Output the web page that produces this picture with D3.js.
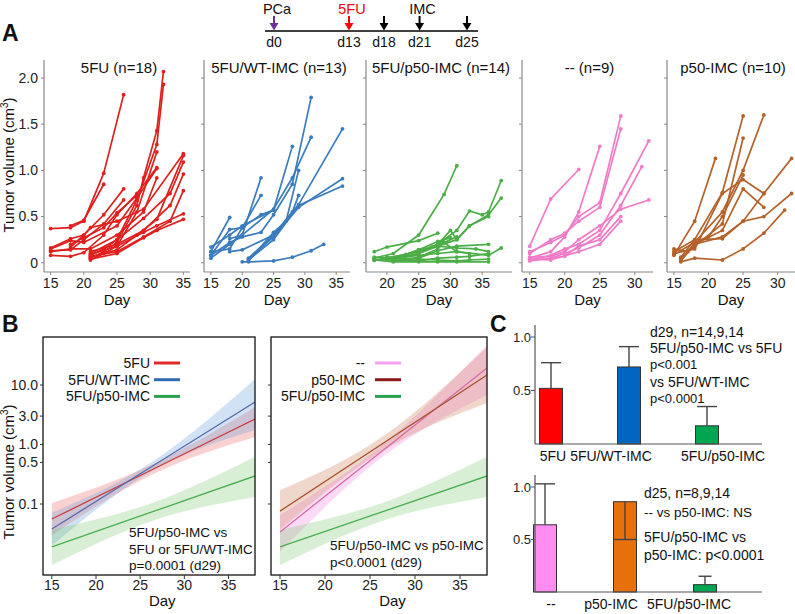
<!DOCTYPE html>
<html><head><meta charset="utf-8">
<script src="https://cdn.jsdelivr.net/npm/d3@7"></script>
<style>body{margin:0;background:#fff} text{font-family:"Liberation Sans",Arial,sans-serif;fill:#111}</style>
</head><body>
<svg id="c" width="795" height="614"></svg>
<script>
// ---------- DATA ----------
// timeline
const timelineDays = [0, 13, 18, 21, 25];
const timelineLabels = ["d0", "d13", "d18", "d21", "d25"];
const timelineArrowColors = ["#7030a0", "#ff0000", "#000", "#000", "#000"];
const timelineEvents = [["PCa", 0, "#111"], ["5FU", 13, "#ff0000"], ["IMC", 21, "#111"]];

// Panel A: individual tumour growth curves [day, volume cm3]
const a5FU = [
  [[15,0.37],[18,0.38],[20,0.45],[23,0.97],[26,1.82]],
  [[18,0.40],[20,0.46],[23,0.85]],
  [[15,0.16],[18,0.26],[20,0.30],[23,0.52],[26,0.80]],
  [[15,0.13],[18,0.14],[20,0.25],[23,0.42],[26,0.68]],
  [[15,0.08],[18,0.07],[20,0.11],[23,0.30],[25,0.52],[28,0.75],[31,1.03]],
  [[21,0.05],[23,0.12],[25,0.22],[28,0.62],[29,0.92],[31,1.43],[32,2.07]],
  [[21,0.08],[23,0.15],[25,0.25],[28,0.68],[31,1.28],[32,1.93]],
  [[21,0.03],[23,0.10],[25,0.18],[28,0.55],[31,1.20]],
  [[18,0.17],[20,0.30],[21,0.38],[25,0.45],[29,0.58],[35,1.18]],
  [[21,0.06],[25,0.14],[28,0.30],[31,0.47],[35,1.16]],
  [[21,0.10],[25,0.25],[29,0.48],[33,0.75],[35,1.09]],
  [[21,0.12],[25,0.20],[29,0.35],[33,0.62],[35,0.96]],
  [[21,0.07],[25,0.12],[29,0.28],[33,0.45],[35,0.78]],
  [[21,0.09],[25,0.18],[29,0.33],[31,0.40],[35,0.53]],
  [[21,0.04],[25,0.10],[29,0.27],[31,0.35],[35,0.47]],
  [[15,0.15],[18,0.24],[20,0.22],[25,0.40],[28,0.70],[31,1.02]],
  [[18,0.20],[20,0.27],[23,0.38],[25,0.54],[28,0.73]],
  [[15,0.12],[18,0.15],[21,0.15],[25,0.30],[29,0.55],[31,0.92]]
];
const aWT = [
  [[15,0.17],[18,0.30],[20,0.40],[25,0.57],[28,1.26]],
  [[15,0.08],[18,0.36],[20,0.38],[23,0.73]],
  [[15,0.05],[18,0.20],[20,0.30],[23,0.92]],
  [[15,0.12],[18,0.49]],
  [[15,0.08],[18,0.22],[20,0.28],[23,0.33],[25,0.52],[28,0.85],[31,1.79]],
  [[18,0.12],[20,0.14],[25,0.30],[29,0.63],[36,1.45]],
  [[18,0.26],[20,0.30],[25,0.58],[28,0.92],[31,1.36]],
  [[21,0.04],[25,0.28],[29,0.60],[36,0.91]],
  [[21,0.03],[25,0.25],[29,0.62],[36,0.83]],
  [[21,0.02],[25,0.33],[27,0.45],[29,1.00]],
  [[21,0.05],[25,0.30],[28,0.55],[29,0.73]],
  [[20,0.01],[21,0.01],[25,0.02],[28,0.06],[31,0.13],[33,0.20]],
  [[15,0.12],[18,0.15],[20,0.38],[23,0.52],[25,0.57]]
];
const aP50 = [
  [[18,0.05],[21,0.10],[25,0.30],[29,0.74],[31,1.05]],
  [[18,0.12],[20,0.17],[25,0.24],[28,0.32]],
  [[18,0.06],[20,0.05],[25,0.12],[28,0.20],[31,0.35],[33,0.56],[35,0.52],[36,0.55],[38,0.89]],
  [[18,0.03],[21,0.04],[25,0.10],[28,0.18],[31,0.25],[33,0.40],[36,0.52],[38,0.70]],
  [[21,0.02],[25,0.05],[28,0.13],[31,0.18],[36,0.20]],
  [[21,0.05],[25,0.08],[28,0.10],[31,0.12],[36,0.08],[38,0.16]],
  [[18,0.03],[21,0.01],[25,0.01],[28,0.01],[31,0.01],[36,0.01]],
  [[20,0.06],[25,0.04],[28,0.03],[31,0.02],[33,0.03],[36,0.04]],
  [[21,0.03],[25,0.10],[28,0.20],[30,0.35],[31,0.25],[33,0.40],[36,0.50]],
  [[20,0.04],[25,0.12],[28,0.18],[31,0.16],[34,0.15],[36,0.12]],
  [[21,0.02],[25,0.06],[28,0.15],[29,0.22],[31,0.28]],
  [[18,0.03],[20,0.05],[23,0.09],[25,0.14],[28,0.23],[30,0.27]],
  [[20,0.03],[25,0.02],[28,0.05],[31,0.06],[33,0.07],[36,0.10]],
  [[21,0.04],[25,0.14],[27,0.17],[29,0.22],[31,0.12],[33,0.10]]
];
const aCtrl = [
  [[15,0.18],[18,0.69],[22,1.01]],
  [[15,0.12],[18,0.22],[20,0.30],[22,0.50],[25,0.65],[28,1.59]],
  [[15,0.10],[18,0.25],[20,0.32],[22,0.45],[25,0.60],[28,1.45]],
  [[15,0.05],[18,0.12],[20,0.28],[22,0.55],[25,1.26]],
  [[15,0.03],[18,0.08],[20,0.15],[22,0.20],[25,0.35],[28,0.75],[32,1.32]],
  [[15,0.02],[18,0.05],[20,0.10],[22,0.16],[25,0.30],[28,0.62],[31,1.04]],
  [[15,0.06],[18,0.07],[20,0.12],[22,0.25],[25,0.40],[28,0.58],[32,0.68]],
  [[15,0.04],[18,0.03],[22,0.12],[25,0.20],[28,0.45]],
  [[15,0.03],[18,0.05],[20,0.07],[22,0.18],[25,0.25],[28,0.50]]
];
const aP50only = [
  [[15,0.08],[18,0.45],[21,1.13]],
  [[15,0.12],[18,0.25],[22,0.76],[25,1.59]],
  [[15,0.09],[18,0.22],[22,0.55],[25,1.00],[28,1.60]],
  [[16,0.05],[18,0.18],[22,0.42],[25,1.35]],
  [[15,0.10],[18,0.15],[22,0.75],[25,0.90],[28,0.75]],
  [[16,0.02],[18,0.20],[22,0.35],[25,0.80],[28,0.60]],
  [[16,0.06],[18,0.25],[22,0.26],[25,0.45],[28,0.50],[32,0.75]],
  [[16,0.03],[18,0.20],[22,0.28],[25,0.45],[28,0.75],[32,1.13]],
  [[16,0.01],[18,0.05],[22,0.03],[25,0.15],[28,0.32],[31,0.57]],
  [[15,0.15],[17,0.12],[18,0.22],[20,0.28],[22,0.50],[25,0.95]]
];
const aTitles = ["5FU (n=18)", "5FU/WT-IMC (n=13)", "5FU/p50-IMC (n=14)", "-- (n=9)", "p50-IMC (n=10)"];
const aYTicks = [0, 0.5, 1.0, 1.5, 2.0];
const aYTickLabels = ["0", "0.5", "1.0", "1.5", "2.0"];

// Panel B: fitted log-linear growth with confidence band at days
const bDays = [15, 26.5, 38];
const bFit5FU = [0.056, 0.387, 2.68],  bLo5FU = [0.030, 0.32, 1.34],  bHi5FU = [0.104, 0.47, 4.26];
const bFitWT  = [0.038, 0.443, 5.18],  bLoWT  = [0.020, 0.37, 1.75],  bHiWT  = [0.071, 0.53, 12.6];
const bFitP50 = [0.019, 0.075, 0.296], bLoP50 = [0.0094, 0.053, 0.131], bHiP50 = [0.037, 0.106, 0.62];
const bFitCtrl = [0.034, 0.81, 19.3],  bLoCtrl = [0.0156, 0.64, 6.8], bHiCtrl = [0.065, 1.02, 47];
const bFitP50only = [0.076, 1.057, 14.7], bLoP50only = [0.037, 0.80, 4.98], bHiP50only = [0.17, 1.39, 43.5];
const bYTicks = [10, 3, 1, 0.5, 0.1];
const bYTickLabels = ["10.0", "3.0", "1.0", "0.5", "0.1"];
const bXTicks = [15, 20, 25, 30, 35];

// Panel C: bar charts
const cTopCats = ["5FU", "5FU/WT-IMC", "5FU/p50-IMC"];
const cTopMeans = [0.52, 0.72, 0.17];
const cTopErrEnd = [0.76, 0.91, 0.35];
const cBotCats = ["--", "p50-IMC", "5FU/p50-IMC"];
const cBotMeans = [0.64, 0.86, 0.07];
const cBotErrEnd = [1.03, 0.50, 0.15];
const cYTicks = [0.5, 1.0];

// ---------- DRAWING ----------
const svg = d3.select("#c");

function panelLabel(t, x, y) {
  svg.append("text").attr("x", x).attr("y", y).attr("font-size", 23).attr("font-weight", "bold").text(t);
}
function yLabel(x, y) {
  const t = svg.append("text").attr("transform", `translate(${x},${y}) rotate(-90)`)
    .attr("text-anchor", "middle").attr("font-size", 15);
  t.append("tspan").text("Tumor volume (cm");
  t.append("tspan").attr("font-size", 10).attr("dy", -6).text("3");
  t.append("tspan").attr("dy", 6).text(")");
}

// ---- timeline ----
const tx = d3.scaleLinear().domain([0, 13, 18, 25]).range([274, 349, 384, 467]);
svg.append("line").attr("x1", tx(0) - 9).attr("x2", tx(25) + 11).attr("y1", 31).attr("y2", 31)
  .attr("stroke", "#000").attr("stroke-width", 1.6);
timelineDays.forEach((d, i) => {
  const x = tx(d), c = timelineArrowColors[i];
  svg.append("line").attr("x1", x).attr("x2", x).attr("y1", 16).attr("y2", 24).attr("stroke", c).attr("stroke-width", 2);
  svg.append("path").attr("d", `M${x - 4.5},23 L${x + 4.5},23 L${x},30.5 Z`).attr("fill", c);
  svg.append("text").attr("x", x).attr("y", 47).attr("text-anchor", "middle").attr("font-size", 14).text(timelineLabels[i]);
});
timelineEvents.forEach(([lab, d, c]) => {
  svg.append("text").attr("x", tx(d) + 3).attr("y", 14).attr("text-anchor", "middle")
    .attr("font-size", 14.5).style("fill", c).text(lab);
});

// ---- Panel A ----
panelLabel("A", 2, 41);
yLabel(14, 165);
const ayScale = d3.scaleLinear().domain([-0.1, 2.195]).range([272, 60]);
const aCfg = [
  { x0: 44,  x1: 190, dom: [14, 36],     lines: a5FU,     color: "#e0201e", ticks: [15,20,25,30,35], showY: true },
  { x0: 204, x1: 350, dom: [13.9, 37.2], lines: aWT,      color: "#3a7cbd", ticks: [15,20,25,30,35] },
  { x0: 366, x1: 512, dom: [16.7, 39.7], lines: aP50,     color: "#4cae46", ticks: [20,25,30,35] },
  { x0: 522, x1: 653, dom: [13.9, 32.6], lines: aCtrl,    color: "#f07cc8", ticks: [15,20,25,30] },
  { x0: 667, x1: 795, dom: [14, 32.5],   lines: aP50only, color: "#b4622a", ticks: [15,20,25,30] }
];
aCfg.forEach((c, k) => {
  const x = d3.scaleLinear().domain(c.dom).range([c.x0, c.x1]);
  const y = ayScale;
  const g = svg.append("g");
  g.append("line").attr("x1", c.x0).attr("x2", c.x0).attr("y1", 60).attr("y2", 272).attr("stroke", "#888").attr("stroke-width", 1.2);
  g.append("line").attr("x1", c.x0).attr("x2", c.x1).attr("y1", 272).attr("y2", 272).attr("stroke", "#888").attr("stroke-width", 1.2);
  aYTicks.forEach((v, i) => {
    g.append("line").attr("x1", c.x0 - 3).attr("x2", c.x0).attr("y1", y(v)).attr("y2", y(v)).attr("stroke", "#888");
    if (c.showY) g.append("text").attr("x", c.x0 - 6).attr("y", y(v)).attr("dy", "0.35em")
      .attr("text-anchor", "end").attr("font-size", 14).style("fill", "#222").text(aYTickLabels[i]);
  });
  c.ticks.forEach(v => {
    g.append("line").attr("x1", x(v)).attr("x2", x(v)).attr("y1", 272).attr("y2", 275).attr("stroke", "#888");
    g.append("text").attr("x", x(v)).attr("y", 288).attr("text-anchor", "middle").attr("font-size", 14).style("fill", "#222").text(v);
  });
  g.append("text").attr("x", (c.x0 + c.x1) / 2).attr("y", 305).attr("text-anchor", "middle").attr("font-size", 15).text("Day");
  g.append("text").attr("x", (c.x0 + c.x1) / 2 + 2).attr("y", 73).attr("text-anchor", "middle").attr("font-size", 15).text(aTitles[k]);
  const line = d3.line().x(d => x(d[0])).y(d => y(d[1]));
  c.lines.forEach(L => {
    g.append("path").attr("d", line(L)).attr("fill", "none").attr("stroke", c.color).attr("stroke-width", 1.7);
    g.selectAll(null).data(L).enter().append("circle").attr("cx", d => x(d[0])).attr("cy", d => y(d[1]))
      .attr("r", 1.9).attr("fill", c.color);
  });
});

// ---- Panel B ----
panelLabel("B", 2, 332);
yLabel(14, 472);
const byScale = d3.scaleLog().domain([0.00641, 64.1]).range([575, 337]);
function panelB(cfg, id) {
  const x = d3.scaleLinear().domain([14, 38]).range([cfg.x0, cfg.x1]);
  const y = byScale;
  svg.append("clipPath").attr("id", id).append("rect").attr("x", cfg.x0).attr("y", 337).attr("width", cfg.x1 - cfg.x0).attr("height", 238);
  const g = svg.append("g").attr("clip-path", `url(#${id})`);
  const area = d3.area().x(d => x(d[0])).y0(d => y(d[1])).y1(d => y(d[2])).curve(d3.curveNatural);
  const line = d3.line().x(d => x(d[0])).y(d => y(d[1]));
  cfg.series.forEach(s => {
    g.append("path").attr("d", area(bDays.map((d, i) => [d, s.lo[i], s.hi[i]]))).attr("fill", s.band);
  });
  cfg.series.forEach(s => {
    g.append("path").attr("d", line(bDays.map((d, i) => [d, s.fit[i]]))).attr("fill", "none").attr("stroke", s.line).attr("stroke-width", 1.3);
  });
  svg.append("rect").attr("x", cfg.x0).attr("y", 337).attr("width", cfg.x1 - cfg.x0).attr("height", 238)
    .attr("fill", "none").attr("stroke", "#111").attr("stroke-width", 1.3);
  bYTicks.forEach((v, i) => {
    svg.append("line").attr("x1", cfg.x0 - 3).attr("x2", cfg.x0).attr("y1", y(v)).attr("y2", y(v)).attr("stroke", "#333");
    if (cfg.showY) svg.append("text").attr("x", cfg.x0 - 5).attr("y", y(v)).attr("dy", "0.35em").attr("text-anchor", "end")
      .attr("font-size", 14).style("fill", "#222").text(bYTickLabels[i]);
  });
  bXTicks.forEach(v => {
    svg.append("line").attr("x1", x(v)).attr("x2", x(v)).attr("y1", 575).attr("y2", 579).attr("stroke", "#333");
    svg.append("text").attr("x", x(v)).attr("y", 590).attr("text-anchor", "middle").attr("font-size", 14).style("fill", "#222").text(v);
  });
  svg.append("text").attr("x", x(27.5)).attr("y", 606).attr("text-anchor", "middle").attr("font-size", 15).text("Day");
  cfg.series.forEach((s, i) => {
    const yy = 363 + i * 16.7;
    svg.append("text").attr("x", cfg.x0 + cfg.legX).attr("y", yy).attr("dy", "0.35em").attr("text-anchor", "end").attr("font-size", 14).text(s.name);
    svg.append("line").attr("x1", cfg.x0 + cfg.legX + cfg.legGap).attr("x2", cfg.x0 + cfg.legX + cfg.legGap + 26)
      .attr("y1", yy).attr("y2", yy).attr("stroke", s.legend).attr("stroke-width", 3);
  });
  cfg.notes.forEach((t, i) => {
    svg.append("text").attr("x", cfg.noteX).attr("y", cfg.noteY + i * 16.5).attr("font-size", 13.5).text(t);
  });
}
panelB({
  x0: 43, x1: 255, showY: true, legX: 107, legGap: 4, noteX: 129, noteY: 537,
  notes: ["5FU/p50-IMC vs", "5FU or 5FU/WT-IMC", "p=0.0001 (d29)"],
  series: [
    { name: "5FU", fit: bFit5FU, lo: bLo5FU, hi: bHi5FU, band: "rgba(236,90,90,0.28)", line: "#cc3c3c", legend: "#e02828" },
    { name: "5FU/WT-IMC", fit: bFitWT, lo: bLoWT, hi: bHiWT, band: "rgba(100,160,215,0.30)", line: "#5a6aae", legend: "#2e6db5" },
    { name: "5FU/p50-IMC", fit: bFitP50, lo: bLoP50, hi: bHiP50, band: "rgba(110,195,100,0.27)", line: "#4aae50", legend: "#2aa050" }
  ]
}, "clipL");
panelB({
  x0: 271, x1: 487, showY: false, legX: 94, legGap: 10, noteX: 330, noteY: 550,
  notes: ["5FU/p50-IMC vs p50-IMC", "p<0.0001 (d29)"],
  series: [
    { name: "--", fit: bFitCtrl, lo: bLoCtrl, hi: bHiCtrl, band: "rgba(245,150,225,0.35)", line: "#d86aa2", legend: "#f4a0ee" },
    { name: "p50-IMC", fit: bFitP50only, lo: bLoP50only, hi: bHiP50only, band: "rgba(205,130,95,0.32)", line: "#a8502c", legend: "#8b1a1a" },
    { name: "5FU/p50-IMC", fit: bFitP50, lo: bLoP50, hi: bHiP50, band: "rgba(110,195,100,0.27)", line: "#4aae50", legend: "#2aa050" }
  ]
}, "clipR");

// ---- Panel C ----
panelLabel("C", 490, 332);
function panelC(cfg) {
  const y = d3.scaleLinear().domain([0, 1]).range([cfg.zero, cfg.one]);
  const x = d3.scalePoint().domain(cfg.cats).range(cfg.xr);
  const g = svg.append("g");
  cfg.cats.forEach((c, i) => {
    const cx = x(c), m = cfg.means[i], e = cfg.errs[i];
    g.append("rect").attr("x", cx - 11.5).attr("y", y(m)).attr("width", 23).attr("height", y(0) - y(m))
      .attr("fill", cfg.colors[i]).attr("stroke", "#333").attr("stroke-width", 1);
    g.append("line").attr("x1", cx).attr("x2", cx).attr("y1", y(m)).attr("y2", y(e)).attr("stroke", "#444").attr("stroke-width", 1.4);
    const cw = cfg.caps[i];
    g.append("line").attr("x1", cx - cw / 2).attr("x2", cx + cw / 2).attr("y1", y(e)).attr("y2", y(e)).attr("stroke", "#444").attr("stroke-width", 1.4);
    g.append("text").attr("x", cx + cfg.labelShift[i]).attr("y", cfg.labelY).attr("text-anchor", "middle").attr("font-size", 14).text(c);
  });
  g.append("line").attr("x1", 535).attr("x2", 535).attr("y1", cfg.top).attr("y2", y(0)).attr("stroke", "#555").attr("stroke-width", 1.2);
  g.append("line").attr("x1", 535).attr("x2", 762).attr("y1", y(0)).attr("y2", y(0)).attr("stroke", "#555").attr("stroke-width", 1.2);
  cYTicks.forEach(v => {
    g.append("line").attr("x1", 531).attr("x2", 535).attr("y1", y(v)).attr("y2", y(v)).attr("stroke", "#555");
    g.append("text").attr("x", 531).attr("y", y(v)).attr("dy", "0.35em").attr("text-anchor", "end").attr("font-size", 13).style("fill", "#222").text(d3.format(".1f")(v));
  });
  cfg.notes.forEach(([t, yy, fs]) => {
    g.append("text").attr("x", cfg.noteX).attr("y", yy).attr("font-size", fs).text(t);
  });
}
panelC({
  cats: cTopCats, means: cTopMeans, errs: cTopErrEnd,
  colors: ["#ff0000", "#0066c0", "#00a651"], caps: [20, 20, 20], labelShift: [2, -18, 16],
  zero: 444, one: 337, top: 325, xr: [551, 707], labelY: 461, noteX: 650,
  notes: [["d29, n=14,9,14", 337, 14], ["5FU/p50-IMC vs 5FU", 353, 14], ["p<0.001", 369, 13],
          ["vs 5FU/WT-IMC", 387, 14], ["p<0.0001", 403, 13]]
});
panelC({
  cats: cBotCats, means: cBotMeans, errs: cBotErrEnd,
  colors: ["#ff8cf0", "#e8700c", "#00a651"], caps: [20, 23, 13], labelShift: [6, -14, -16],
  zero: 592, one: 487, top: 475, xr: [545, 705], labelY: 609, noteX: 644,
  notes: [["d25, n=8,9,14", 498, 14], ["-- vs p50-IMC: NS", 517, 13.5], ["5FU/p50-IMC vs", 542, 14],
          ["p50-IMC: p<0.0001", 560, 14]]
});
</script>
</body></html>
